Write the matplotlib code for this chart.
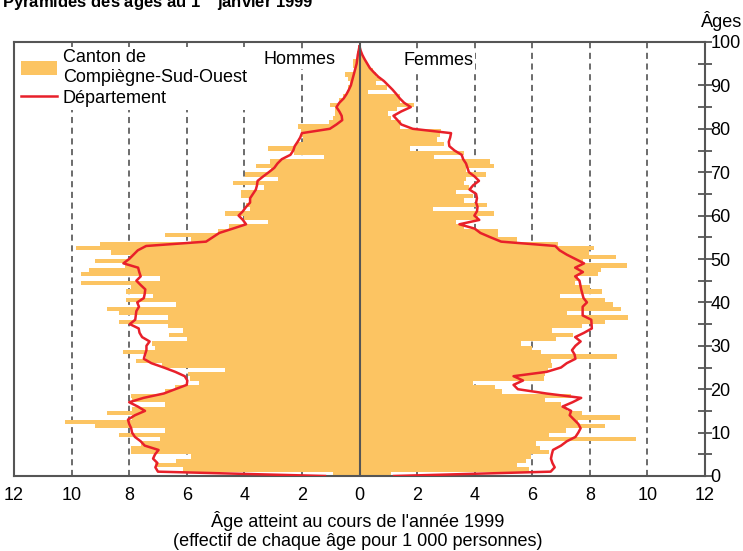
import numpy as np
import matplotlib
matplotlib.use('Agg')
import matplotlib.pyplot as plt
from matplotlib import font_manager as fm
from matplotlib.patches import Patch
from matplotlib.lines import Line2D

# age 0 .. 99, per 1 000 persons
ages = np.arange(100)

canton_hommes = [
    0.91, 6.13, 7.10, 6.36, 5.84, 7.95, 7.95, 7.58, 6.92, 8.37,
    6.77, 9.18, 10.22, 7.90, 8.76, 7.90, 6.77, 7.90, 7.95, 6.75,
    6.40, 5.57, 5.90, 5.95, 4.66, 6.85, 7.78, 7.40, 8.22, 7.10,
    7.20, 5.98, 6.63, 6.13, 6.65, 8.37, 6.65, 8.37, 8.76, 6.36,
    8.10, 7.17, 8.10, 7.95, 9.69, 6.92, 9.69, 9.41, 8.16, 9.18,
    7.98, 8.62, 9.84, 9.03, 5.85, 6.77, 4.92, 4.52, 3.19, 4.00,
    4.67, 3.80, 3.95, 3.83, 4.10, 4.10, 3.30, 4.38, 2.84, 3.97,
    3.08, 3.60, 3.10, 1.22, 2.29, 3.19, 2.20, 1.95, 2.00, 2.04,
    2.12, 1.05, 0.91, 0.85, 0.86, 1.04, 0.70, 0.57, 0.45, 0.40,
    0.33, 0.40, 0.51, 0.16, 0.22, 0.24, 0.10, 0.07, 0.03, 0.00,
]

canton_femmes = [
    1.11, 5.90, 5.48, 5.79, 5.97, 6.57, 6.28, 6.14, 9.60, 6.57,
    7.16, 8.53, 7.60, 9.06, 7.72, 7.20, 7.00, 6.43, 7.35, 4.95,
    4.69, 3.94, 6.40, 6.43, 6.54, 6.69, 6.66, 8.94, 6.29, 6.00,
    5.62, 6.83, 7.43, 6.69, 7.73, 8.53, 9.32, 7.21, 9.09, 8.80,
    8.53, 6.95, 8.42, 8.00, 7.50, 7.60, 8.27, 8.40, 9.30, 7.77,
    8.92, 7.98, 8.13, 6.90, 5.46, 4.80, 4.80, 3.64, 3.35, 4.10,
    4.66, 2.54, 4.43, 3.64, 3.93, 3.35, 3.80, 3.64, 3.70, 4.41,
    3.70, 4.66, 4.54, 2.58, 3.62, 1.77, 2.95, 2.69, 2.80, 2.83,
    1.40, 1.45, 1.10, 1.00, 1.30, 1.89, 1.39, 1.40, 0.30, 0.97,
    0.59, 0.76, 0.59, 0.47, 0.32, 0.22, 0.15, 0.10, 0.06, 0.03,
]

dept_hommes = [
    1.20, 7.00, 7.09, 7.02, 7.17, 7.10, 6.98, 7.46, 7.60, 7.80,
    7.90, 7.93, 8.00, 8.04, 7.80, 7.45, 7.70, 8.00, 7.50, 6.80,
    6.40, 6.00, 5.98, 6.07, 6.40, 6.80, 7.23, 7.49, 7.45, 7.40,
    7.40, 7.29, 7.55, 7.64, 7.67, 7.98, 7.79, 7.77, 7.75, 7.66,
    7.72, 7.49, 7.46, 7.44, 7.60, 7.75, 7.60, 7.65, 7.69, 8.20,
    8.00, 7.85, 7.70, 7.41, 5.33, 5.10, 4.87, 4.40, 3.94, 4.05,
    4.20, 4.05, 3.94, 3.80, 3.80, 3.70, 3.60, 3.56, 3.54, 3.35,
    3.15, 2.96, 2.85, 2.70, 2.40, 2.30, 2.25, 2.15, 2.06, 2.00,
    1.03, 0.80, 0.60, 0.62, 0.70, 0.80, 0.70, 0.55, 0.45, 0.37,
    0.30, 0.26, 0.22, 0.18, 0.14, 0.10, 0.08, 0.06, 0.03, 0.00,
]

dept_femmes = [
    1.20, 6.64, 6.78, 6.70, 6.65, 6.68, 6.72, 7.00, 7.20, 7.50,
    7.60, 7.68, 7.60, 7.45, 7.30, 7.35, 7.05, 7.40, 7.70, 6.50,
    5.50, 5.35, 5.68, 5.35, 6.50, 7.00, 7.20, 7.50, 7.47, 7.38,
    7.50, 7.68, 7.49, 7.80, 8.07, 8.06, 8.05, 7.75, 7.75, 7.75,
    7.90, 7.78, 7.74, 7.70, 7.67, 7.64, 7.49, 7.76, 7.49, 7.80,
    7.50, 7.20, 6.95, 6.80, 4.92, 4.55, 4.20, 4.00, 3.47, 4.16,
    3.99, 4.08, 4.10, 4.05, 4.08, 4.05, 3.82, 3.95, 4.15, 4.00,
    3.80, 3.75, 3.70, 3.60, 3.55, 3.30, 3.12, 3.10, 3.15, 3.18,
    1.85, 1.45, 1.32, 1.18, 1.45, 1.78, 1.55, 1.40, 1.28, 1.15,
    1.00, 0.85, 0.65, 0.50, 0.36, 0.27, 0.18, 0.10, 0.04, 0.00,
]

grid_x = [-10, -8, -6, -4, -2, 2, 4, 6, 8, 10]
xticks = np.arange(-12, 13, 2)

BAR = '#FCC462'
RED = '#E8202A'
GREY = '#444444'
FRAME = '#555555'

# narrow face if the box has one, Arial-like otherwise
installed = {f.name for f in fm.fontManager.ttflist}
if 'Liberation Sans Narrow' in installed:
    plt.rcParams['font.family'] = ['Liberation Sans Narrow', 'DejaVu Sans']
    FS = 15
else:
    plt.rcParams['font.family'] = ['Liberation Sans', 'DejaVu Sans']
    FS = 13
plt.rcParams['font.size'] = FS

W, H = 743, 551
fig = plt.figure(figsize=(W / 100, H / 100), dpi=100)
ax = fig.add_axes([14 / W, 1 - 476 / H, (705 - 14) / W, (476 - 42) / H])

for v in grid_x:
    ax.axvline(v, color=GREY, ls=(0, (4, 3)), lw=1.1, zorder=0)

ax.barh(ages, -np.array(canton_hommes), height=1, align='edge', color=BAR, lw=0, zorder=1)
ax.barh(ages, canton_femmes, height=1, align='edge', color=BAR, lw=0, zorder=1)
ax.plot(-np.array(dept_hommes), ages, color=RED, lw=1.8, zorder=3)
ax.plot(dept_femmes, ages, color=RED, lw=1.8, zorder=3)
ax.axvline(0, color=FRAME, lw=1.5, zorder=4)

ax.set_xlim(-12, 12)
ax.set_ylim(0, 100)

for s in ax.spines.values():
    s.set_color(FRAME)
    s.set_linewidth(1.5)

ax.yaxis.tick_right()
ax.set_yticks(range(0, 101, 10))
ax.set_yticks(range(5, 100, 10), minor=True)
ax.tick_params(axis='y', which='both', direction='inout', length=10, width=1.3,
               color=FRAME, pad=-1, labelsize=FS)
ax.set_xticks(xticks)
ax.set_xticklabels([str(abs(v)) for v in xticks])
ax.tick_params(axis='x', length=0, pad=8, labelsize=FS)

box = dict(facecolor='white', edgecolor='none', pad=1)
ax.text(-2.1, 96, 'Hommes', ha='center', va='center', bbox=box, zorder=5)
ax.text(2.75, 95.8, 'Femmes', ha='center', va='center', bbox=box, zorder=5)

handles = [Patch(facecolor=BAR, edgecolor='none'), Line2D([], [], color=RED, lw=1.8)]
leg = ax.legend(handles, ['Canton de\nCompiègne-Sud-Ouest', 'Département'],
                loc='upper left', bbox_to_anchor=(0, 1), fontsize=FS, frameon=True,
                fancybox=False, facecolor='white', edgecolor='none', framealpha=1,
                borderpad=0.15, borderaxespad=0.25, handlelength=2.0, handleheight=0.85,
                handletextpad=0.3, labelspacing=0.2)
leg.set_zorder(6)

fig.text(2 / W, 1 - 8 / H, 'Pyramides des âges au 1$^{er}$ janvier 1999',
         fontweight='bold', fontsize=FS - 1, ha='left', va='baseline')
fig.text(722 / W, 1 - 21 / H, 'Âges', ha='center', va='center')
fig.text(358 / W, 1 - 521 / H, "Âge atteint au cours de l'année 1999",
         ha='center', va='center')
fig.text(358 / W, 1 - 541 / H, '(effectif de chaque âge pour 1 000 personnes)',
         ha='center', va='center')

fig.savefig('out.png', dpi=100)
